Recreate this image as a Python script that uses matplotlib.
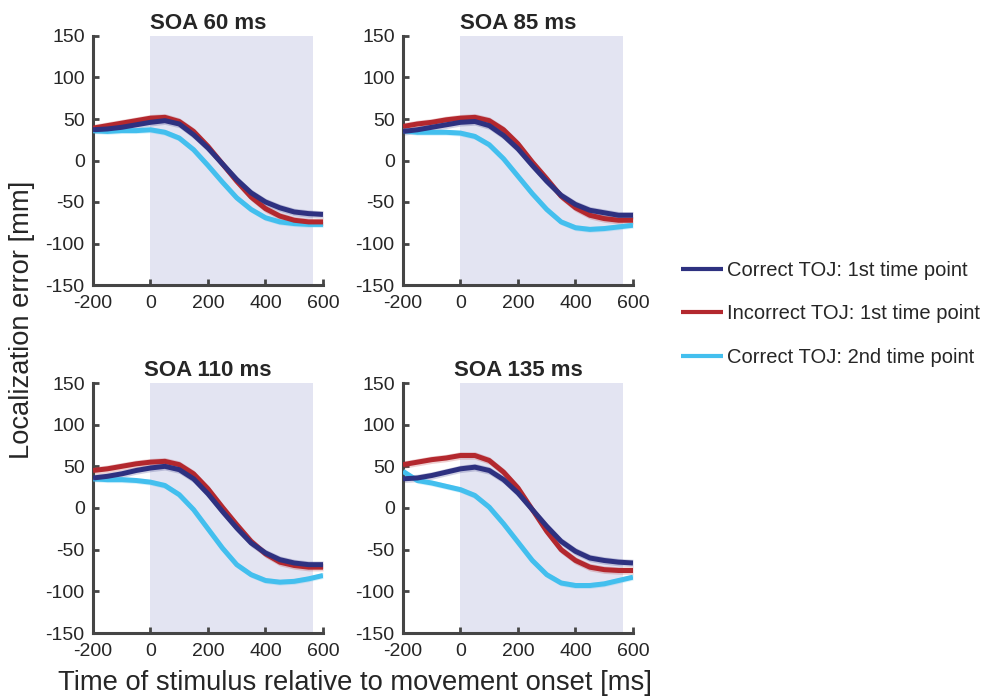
import matplotlib
matplotlib.use("Agg")
import matplotlib.pyplot as plt
import numpy as np

plt.rcParams['font.family'] = ['Liberation Sans', 'DejaVu Sans']
plt.rcParams['axes.unicode_minus'] = False

# ---- data ----
time_ms = [-200, -150, -100, -50, 0, 50, 100, 150, 200, 250, 300, 350, 400, 450, 500, 550, 600]
titles = ["SOA 60 ms", "SOA 85 ms", "SOA 110 ms", "SOA 135 ms"]
series_names = ["Correct TOJ: 1st time point", "Incorrect TOJ: 1st time point", "Correct TOJ: 2nd time point"]
colors = ["#2E3180", "#B3282E", "#43BFEE"]
shade_start = 0
shade_end = 565
sem = [4.5, 4.5, 3.5]

soa60_correct1 = [37, 38, 40, 43, 46, 48, 44, 31, 15, -4, -23, -39, -50, -57, -62, -64, -65]
soa60_incorrect1 = [39, 42, 45, 48, 51, 52, 47, 35, 17, -4, -25, -44, -58, -67, -72, -74, -74]
soa60_correct2 = [36, 35, 36, 36, 37, 34, 27, 13, -6, -26, -45, -59, -69, -74, -76, -77, -77]

soa85_correct1 = [35, 37, 40, 43, 46, 47, 42, 30, 14, -6, -25, -42, -53, -60, -63, -66, -66]
soa85_incorrect1 = [41, 44, 46, 49, 51, 52, 48, 37, 20, -2, -22, -43, -57, -66, -70, -72, -72]
soa85_correct2 = [36, 34, 34, 34, 33, 29, 19, 2, -19, -40, -59, -74, -81, -83, -82, -80, -78]

soa110_correct1 = [36, 38, 41, 45, 48, 50, 46, 35, 17, -4, -24, -42, -54, -62, -66, -68, -68]
soa110_incorrect1 = [45, 47, 50, 53, 55, 56, 52, 41, 23, 1, -20, -40, -55, -65, -69, -71, -71]
soa110_correct2 = [35, 34, 34, 33, 31, 27, 16, -2, -25, -48, -68, -80, -87, -89, -88, -85, -81]

soa135_correct1 = [35, 36, 39, 43, 47, 49, 45, 34, 18, -2, -22, -40, -52, -60, -63, -65, -66]
soa135_incorrect1 = [52, 55, 58, 60, 63, 63, 57, 43, 24, -2, -28, -50, -63, -71, -74, -75, -75]
soa135_correct2 = [44, 33, 30, 26, 22, 15, 1, -19, -41, -63, -80, -90, -93, -93, -91, -87, -83]

panels = [
    [soa60_correct1, soa60_incorrect1, soa60_correct2],
    [soa85_correct1, soa85_incorrect1, soa85_correct2],
    [soa110_correct1, soa110_incorrect1, soa110_correct2],
    [soa135_correct1, soa135_incorrect1, soa135_correct2],
]

xticks = [-200, 0, 200, 400, 600]
yticks = [-150, -100, -50, 0, 50, 100, 150]

# ---- figure ----
W, H = 987, 696
fig = plt.figure(figsize=(W / 100, H / 100), dpi=100)

boxes = [(93, 36, 323, 285), (403, 36, 633, 285), (93, 383, 323, 633), (403, 383, 633, 633)]
spine_col = "#454545"
text_col = "#262626"
handles = []
for i, (x0, y0, x1, y1) in enumerate(boxes):
    ax = fig.add_axes([x0 / W, 1 - y1 / H, (x1 - x0) / W, (y1 - y0) / H])
    ax.axvspan(shade_start, shade_end, color="#E3E4F2", zorder=0, lw=0)
    x = np.array(time_ms)
    for s, (vals, c, e) in enumerate(zip(panels[i], colors, sem)):
        v = np.array(vals, dtype=float)
        ax.fill_between(x, v - e, v + e, color=c, alpha=0.22, lw=0, zorder=1 + s)
    zorders = [6, 5, 4]
    for s, (vals, c) in enumerate(zip(panels[i], colors)):
        ln, = ax.plot(time_ms, vals, color=c, lw=3.6, solid_capstyle='butt',
                      solid_joinstyle='round', zorder=zorders[s])
        if i == 0:
            handles.append(ln)
    ax.set_xlim(-200, 600)
    ax.set_ylim(-150, 150)
    ax.set_xticks(xticks)
    ax.set_yticks(yticks)
    ax.tick_params(direction='in', length=4, width=2, colors=spine_col,
                   labelcolor=text_col, labelsize=14)
    ax.tick_params(axis='x', pad=7)
    ax.tick_params(axis='y', pad=6)
    for sp in ["top", "right"]:
        ax.spines[sp].set_visible(False)
    for sp in ["left", "bottom"]:
        ax.spines[sp].set_color(spine_col)
        ax.spines[sp].set_linewidth(2.2)
    ax.set_facecolor("none")
    ax.set_title(titles[i], fontsize=16, fontweight='bold', color=text_col, pad=5)

fig.text(22 / W, 1 - 320 / H, "Localization error [mm]", rotation=90, fontsize=19.7,
         color=text_col, ha='center', va='center')
fig.text(355 / W, 1 - 683 / H, "Time of stimulus relative to movement onset [ms]",
         fontsize=19.7, color=text_col, ha='center', va='center')

leg = fig.legend(handles, series_names, loc='center left', bbox_to_anchor=(681 / W, 1 - 314 / H),
                 frameon=False, fontsize=14.5, handlelength=2.1, handletextpad=0.2,
                 labelspacing=1.2, borderpad=0, borderaxespad=0)
for t in leg.get_texts():
    t.set_color(text_col)
for l in leg.get_lines():
    l.set_linewidth(3)

fig.savefig("out.png", dpi=100)
